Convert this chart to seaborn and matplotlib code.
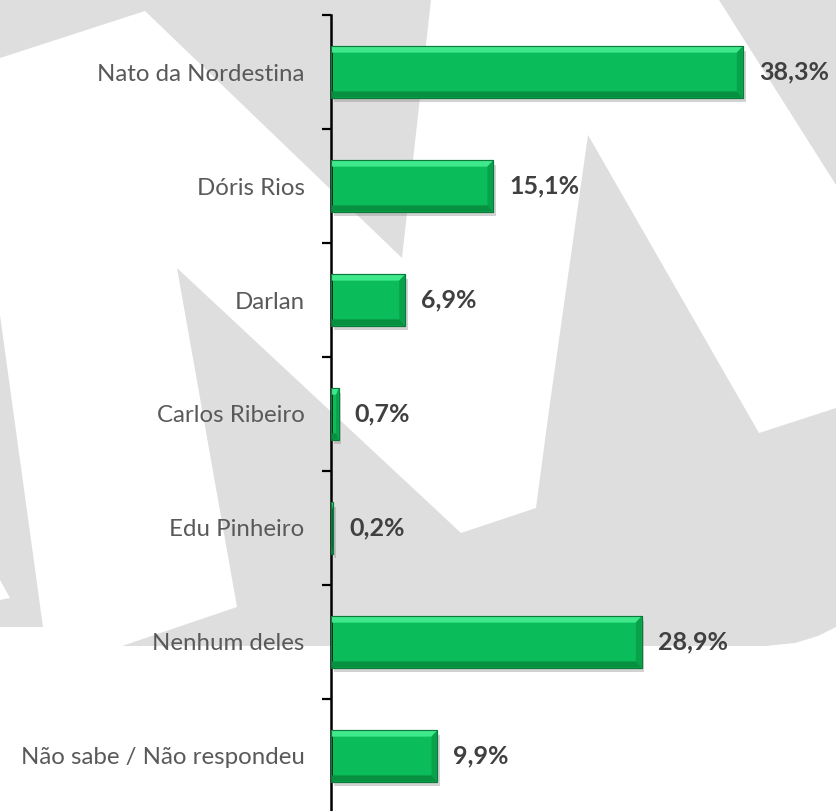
import matplotlib
matplotlib.use("Agg")
import matplotlib.pyplot as plt
import matplotlib.patheffects as pe
from matplotlib.patches import Polygon
import seaborn as sns
import pandas as pd

# ========== 数据 ==========
candidatos = ["Nato da Nordestina", "Dóris Rios", "Darlan", "Carlos Ribeiro",
              "Edu Pinheiro", "Nenhum deles", "Não sabe / Não respondeu"]
percentuais = [38.3, 15.1, 6.9, 0.7, 0.2, 28.9, 9.9]
rotulos = ["38,3%", "15,1%", "6,9%", "0,7%", "0,2%", "28,9%", "9,9%"]

W, H = 836, 811
VERDE = "#0BBD5A"
CINZA_FUNDO = "#DEDEDE"

sns.set_style("white")
plt.rcParams["font.family"] = ["Lato", "DejaVu Sans"]

fig = plt.figure(figsize=(W / 100, H / 100), dpi=100, facecolor=CINZA_FUNDO)

# marca d'água (forma em "M" ao fundo), em pixels da imagem
contorno_branco = [
    (0, 58), (145, 11), (402, 258), (431, 0), (719, 0), (836, 185),
    (836, 408), (759, 433), (588, 135), (549, 410), (536, 508), (461, 533),
    (177, 268), (237, 607), (122, 646), (766, 646), (795, 643), (818, 636),
    (836, 627), (836, 811), (0, 811), (0, 627), (43, 627), (0, 315),
]
entalhe = [(0, 580), (10, 598), (0, 600)]
for forma in (contorno_branco, entalhe):
    fig.patches.append(Polygon([(x / W, 1 - y / H) for x, y in forma],
                               closed=True, facecolor="white", edgecolor="none",
                               transform=fig.transFigure, zorder=-10))

ax = fig.add_axes([331 / W, -2 / H, 505 / W, 798 / H])
ax.patch.set_alpha(0)

df = pd.DataFrame({"candidato": candidatos, "pct": percentuais})
sns.barplot(data=df, x="pct", y="candidato", orient="h", color=VERDE,
            width=0.45, saturation=1, edgecolor="#0B7A3A", linewidth=0.8, ax=ax)

ax.set_xlim(0, 505 / 10.75)
ax.set_ylim(6.5, -0.5)

# efeito de bisel + sombra nas barras
for p in list(ax.patches):
    p.set_path_effects([pe.SimplePatchShadow(offset=(2, -3), shadow_rgbFace="#808080", alpha=0.35),
                        pe.Normal()])
    x0, y0 = p.get_x(), p.get_y()
    w, h = p.get_width(), p.get_height()
    x1, y1 = x0 + w, y0 + h
    bx = min(0.55, w * 0.3)
    by = 0.055
    ax.add_patch(Polygon([(x0, y0), (x1, y0), (x1 - bx, y0 + by), (x0, y0 + by)],
                         facecolor="#3FE88A", edgecolor="none", zorder=3))
    ax.add_patch(Polygon([(x1, y0), (x1, y1), (x1 - bx, y1 - by), (x1 - bx, y0 + by)],
                         facecolor="#08A24B", edgecolor="none", zorder=3))
    ax.add_patch(Polygon([(x0, y1), (x1, y1), (x1 - bx, y1 - by), (x0, y1 - by)],
                         facecolor="#07903F", edgecolor="none", zorder=3))
    ax.add_patch(plt.Rectangle((x0, y0), w, h, facecolor="none",
                               edgecolor="#0B7A3A", linewidth=0.8, zorder=4))

# rótulos de valor
for i, (v, r) in enumerate(zip(percentuais, rotulos)):
    ax.annotate(r, xy=(v, i), xytext=(16, 0), textcoords="offset pixels",
                ha="left", va="center", fontsize=18, fontweight="bold",
                color="#404040", annotation_clip=False)

# eixos
for s in ["top", "right", "bottom"]:
    ax.spines[s].set_visible(False)
ax.spines["left"].set_linewidth(1.8)
ax.spines["left"].set_color("black")
ax.set_xticks([])
ax.set_xlabel("")
ax.set_ylabel("")
ax.set_yticks(range(len(candidatos)))
ax.set_yticklabels(candidatos, fontsize=17.3, color="#595959")
ax.set_yticks([i - 0.5 for i in range(len(candidatos) + 1)], minor=True)
ax.tick_params(axis="y", which="major", left=True, length=0, pad=19)
ax.tick_params(axis="y", which="minor", left=True, length=6.5, width=1.6,
               color="black", direction="out")

fig.savefig("out.png", dpi=100, facecolor=fig.get_facecolor())
